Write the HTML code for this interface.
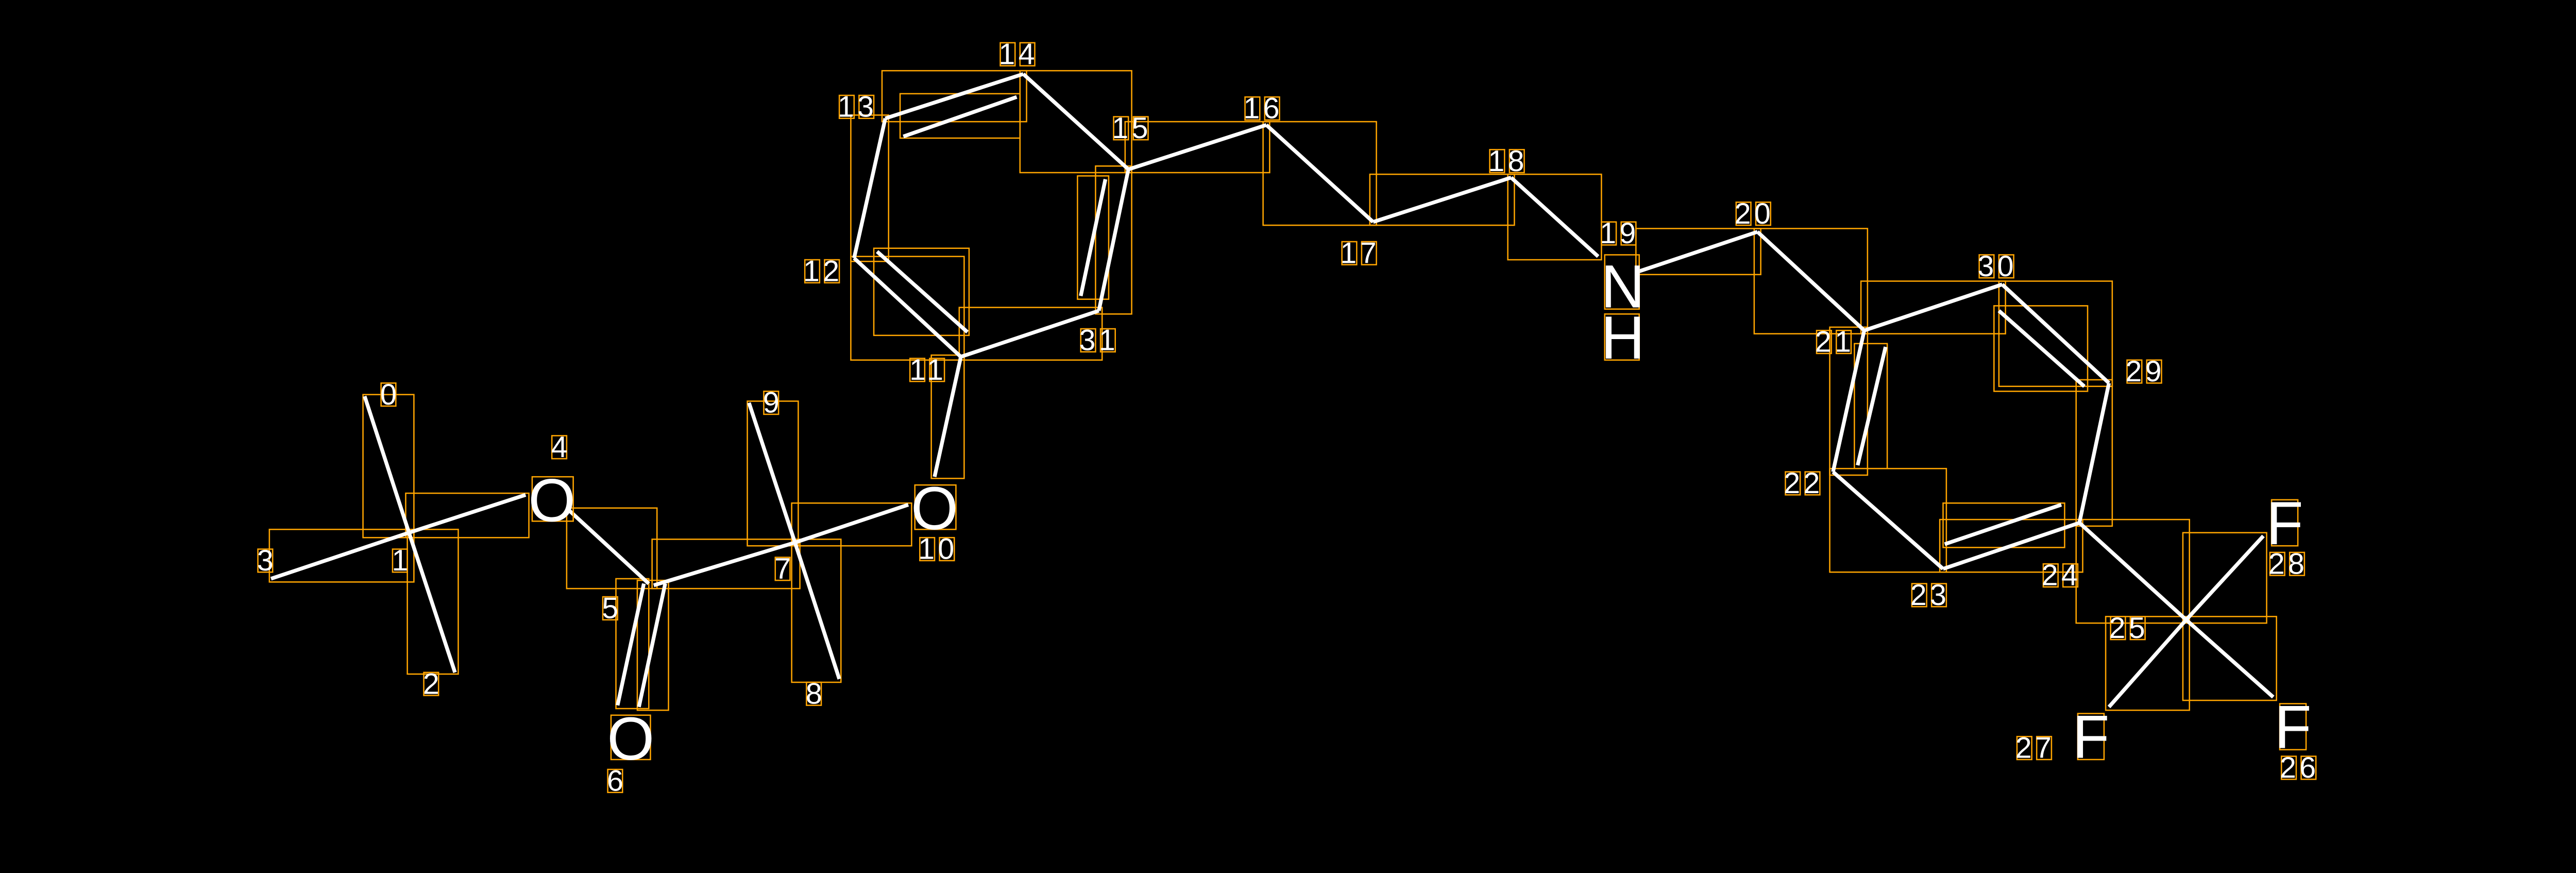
<!DOCTYPE html>
<html><head><meta charset="utf-8"><style>
html,body{margin:0;padding:0;background:#000;}
svg{display:block;}
text{font-family:"Liberation Sans","DejaVu Sans",sans-serif;fill:#fff;}
.d{font-size:18px;}
.a{font-size:37px;}
</style></head><body>
<svg width="5238" height="1694" viewBox="0 0 1643 531" preserveAspectRatio="none" xmlns="http://www.w3.org/2000/svg">
<rect width="1643" height="531" fill="#000"/>
<g fill="none" stroke="#ffa500" stroke-width="0.8">
<rect x="221" y="240" width="31" height="87"/>
<rect x="248" y="322" width="31" height="88"/>
<rect x="164" y="322" width="88" height="32"/>
<rect x="247" y="300" width="75" height="27"/>
<rect x="345" y="309" width="55" height="49"/>
<rect x="375" y="352" width="20" height="79"/>
<rect x="388" y="353" width="19" height="79"/>
<rect x="397" y="328" width="90" height="30"/>
<rect x="455" y="244" width="31" height="88"/>
<rect x="482" y="328" width="30" height="87"/>
<rect x="482" y="306" width="73" height="26"/>
<rect x="567" y="216" width="20" height="75"/>
<rect x="518" y="156" width="69" height="63"/>
<rect x="532" y="151" width="58" height="53"/>
<rect x="518" y="70" width="23" height="89"/>
<rect x="537" y="43" width="88" height="31"/>
<rect x="548" y="57" width="73" height="27"/>
<rect x="621" y="43" width="68" height="62"/>
<rect x="667" y="101" width="22" height="90"/>
<rect x="656" y="107" width="19" height="75"/>
<rect x="584" y="187" width="87" height="32"/>
<rect x="685" y="74" width="88" height="31"/>
<rect x="769" y="74" width="69" height="63"/>
<rect x="834" y="106" width="88" height="31"/>
<rect x="918" y="106" width="57" height="52"/>
<rect x="996" y="139" width="76" height="28"/>
<rect x="1068" y="139" width="69" height="64"/>
<rect x="1133" y="171" width="88" height="32"/>
<rect x="1217" y="171" width="69" height="64"/>
<rect x="1214" y="186" width="57" height="52"/>
<rect x="1264" y="231" width="22" height="89"/>
<rect x="1181" y="316" width="87" height="32"/>
<rect x="1183" y="306" width="74" height="27"/>
<rect x="1114" y="285" width="71" height="63"/>
<rect x="1114" y="199" width="23" height="90"/>
<rect x="1129" y="209" width="20" height="76"/>
<rect x="1264" y="316" width="69" height="63"/>
<rect x="1329" y="375" width="57" height="51"/>
<rect x="1282" y="375" width="51" height="57"/>
<rect x="1329" y="324" width="51" height="55"/>
</g>
<g stroke="#fff" stroke-width="2.3">
<line x1="249" y1="324" x2="222" y2="241"/>
<line x1="249" y1="324" x2="277" y2="409"/>
<line x1="249" y1="324" x2="165" y2="352"/>
<line x1="249" y1="324" x2="320" y2="301"/>
<line x1="346" y1="310" x2="395" y2="355"/>
<line x1="392" y1="355" x2="376" y2="429"/>
<line x1="405" y1="355" x2="389" y2="430"/>
<line x1="398" y1="356" x2="484" y2="330"/>
<line x1="484" y1="330" x2="456" y2="245"/>
<line x1="484" y1="330" x2="511" y2="413"/>
<line x1="484" y1="330" x2="553" y2="307"/>
<line x1="569" y1="290" x2="585" y2="217"/>
<line x1="585" y1="217" x2="520" y2="157"/>
<line x1="534" y1="153" x2="589" y2="202"/>
<line x1="520" y1="157" x2="539" y2="72"/>
<line x1="539" y1="72" x2="623" y2="45"/>
<line x1="550" y1="83" x2="619" y2="59"/>
<line x1="623" y1="45" x2="687" y2="103"/>
<line x1="687" y1="103" x2="669" y2="189"/>
<line x1="673" y1="109" x2="658" y2="180"/>
<line x1="669" y1="189" x2="585" y2="217"/>
<line x1="687" y1="103" x2="771" y2="76"/>
<line x1="771" y1="76" x2="836" y2="135"/>
<line x1="836" y1="135" x2="920" y2="108"/>
<line x1="920" y1="108" x2="973" y2="156"/>
<line x1="998" y1="165" x2="1070" y2="141"/>
<line x1="1070" y1="141" x2="1135" y2="201"/>
<line x1="1135" y1="201" x2="1219" y2="173"/>
<line x1="1219" y1="173" x2="1284" y2="233"/>
<line x1="1217" y1="189" x2="1269" y2="235"/>
<line x1="1284" y1="233" x2="1266" y2="318"/>
<line x1="1266" y1="318" x2="1183" y2="346"/>
<line x1="1184" y1="331" x2="1255" y2="307"/>
<line x1="1183" y1="346" x2="1116" y2="287"/>
<line x1="1116" y1="287" x2="1135" y2="201"/>
<line x1="1148" y1="211" x2="1131" y2="283"/>
<line x1="1266" y1="318" x2="1331" y2="377"/>
<line x1="1331" y1="377" x2="1384" y2="424"/>
<line x1="1331" y1="377" x2="1284" y2="430"/>
<line x1="1331" y1="377" x2="1378" y2="326"/>
</g>
<g fill="none" stroke="#ffa500" stroke-width="0.8">
<rect x="324" y="290" width="25" height="27"/>
<rect x="372" y="435" width="24" height="27"/>
<rect x="557" y="295" width="25" height="27"/>
<rect x="977" y="155" width="21" height="33"/>
<rect x="977" y="191" width="21" height="28"/>
<rect x="1383" y="304" width="16" height="28"/>
<rect x="1265" y="434" width="16" height="28"/>
<rect x="1388" y="428" width="16" height="28"/>
</g>
<text class="a" x="336" y="317" text-anchor="middle">O</text>
<text class="a" x="384" y="462" text-anchor="middle">O</text>
<text class="a" x="569" y="322" text-anchor="middle">O</text>
<text class="a" x="988" y="187" text-anchor="middle">N</text>
<text class="a" x="988" y="218" text-anchor="middle">H</text>
<text class="a" x="1391" y="331" text-anchor="middle">F</text>
<text class="a" x="1273" y="461" text-anchor="middle">F</text>
<text class="a" x="1396" y="455" text-anchor="middle">F</text>
<g fill="none" stroke="#ffa500" stroke-width="0.8">
<rect x="232" y="233" width="9" height="14"/>
<rect x="239" y="334" width="9" height="14"/>
<rect x="258" y="409" width="9" height="14"/>
<rect x="157" y="334" width="9" height="14"/>
<rect x="336" y="265" width="9" height="14"/>
<rect x="367" y="363" width="9" height="14"/>
<rect x="370" y="468" width="9" height="14"/>
<rect x="472" y="339" width="9" height="14"/>
<rect x="491" y="415" width="9" height="14"/>
<rect x="465" y="238" width="9" height="14"/>
<rect x="560" y="327" width="9" height="14"/><rect x="572" y="327" width="9" height="14"/>
<rect x="554" y="218" width="9" height="14"/><rect x="566" y="218" width="9" height="14"/>
<rect x="490" y="158" width="9" height="14"/><rect x="502" y="158" width="9" height="14"/>
<rect x="511" y="58" width="9" height="14"/><rect x="523" y="58" width="9" height="14"/>
<rect x="609" y="26" width="9" height="14"/><rect x="621" y="26" width="9" height="14"/>
<rect x="678" y="71" width="9" height="14"/><rect x="690" y="71" width="9" height="14"/>
<rect x="758" y="59" width="9" height="14"/><rect x="770" y="59" width="9" height="14"/>
<rect x="817" y="147" width="9" height="14"/><rect x="829" y="147" width="9" height="14"/>
<rect x="907" y="91" width="9" height="14"/><rect x="919" y="91" width="9" height="14"/>
<rect x="975" y="135" width="9" height="14"/><rect x="987" y="135" width="9" height="14"/>
<rect x="1057" y="123" width="9" height="14"/><rect x="1069" y="123" width="9" height="14"/>
<rect x="1106" y="201" width="9" height="14"/><rect x="1118" y="201" width="9" height="14"/>
<rect x="1087" y="287" width="9" height="14"/><rect x="1099" y="287" width="9" height="14"/>
<rect x="1164" y="355" width="9" height="14"/><rect x="1176" y="355" width="9" height="14"/>
<rect x="1244" y="343" width="9" height="14"/><rect x="1256" y="343" width="9" height="14"/>
<rect x="1285" y="375" width="9" height="14"/><rect x="1297" y="375" width="9" height="14"/>
<rect x="1389" y="460" width="9" height="14"/><rect x="1401" y="460" width="9" height="14"/>
<rect x="1228" y="448" width="9" height="14"/><rect x="1240" y="448" width="9" height="14"/>
<rect x="1382" y="336" width="9" height="14"/><rect x="1394" y="336" width="9" height="14"/>
<rect x="1295" y="219" width="9" height="14"/><rect x="1307" y="219" width="9" height="14"/>
<rect x="1205" y="155" width="9" height="14"/><rect x="1217" y="155" width="9" height="14"/>
<rect x="658" y="200" width="9" height="14"/><rect x="670" y="200" width="9" height="14"/>
</g>
<g text-anchor="middle">
<text class="d" x="236.5" y="246">0</text>
<text class="d" x="243.5" y="347">1</text>
<text class="d" x="262.5" y="422">2</text>
<text class="d" x="161.5" y="347">3</text>
<text class="d" x="340.5" y="278">4</text>
<text class="d" x="371.5" y="376">5</text>
<text class="d" x="374.5" y="481">6</text>
<text class="d" x="476.5" y="352">7</text>
<text class="d" x="495.5" y="428">8</text>
<text class="d" x="469.5" y="251">9</text>
<text class="d" x="571" y="340" letter-spacing="2">10</text>
<text class="d" x="565" y="231" letter-spacing="2">11</text>
<text class="d" x="501" y="171" letter-spacing="2">12</text>
<text class="d" x="522" y="71" letter-spacing="2">13</text>
<text class="d" x="620" y="39" letter-spacing="2">14</text>
<text class="d" x="689" y="84" letter-spacing="2">15</text>
<text class="d" x="769" y="72" letter-spacing="2">16</text>
<text class="d" x="828" y="160" letter-spacing="2">17</text>
<text class="d" x="918" y="104" letter-spacing="2">18</text>
<text class="d" x="986" y="148" letter-spacing="2">19</text>
<text class="d" x="1068" y="136" letter-spacing="2">20</text>
<text class="d" x="1117" y="214" letter-spacing="2">21</text>
<text class="d" x="1098" y="300" letter-spacing="2">22</text>
<text class="d" x="1175" y="368" letter-spacing="2">23</text>
<text class="d" x="1255" y="356" letter-spacing="2">24</text>
<text class="d" x="1296" y="388" letter-spacing="2">25</text>
<text class="d" x="1400" y="473" letter-spacing="2">26</text>
<text class="d" x="1239" y="461" letter-spacing="2">27</text>
<text class="d" x="1393" y="349" letter-spacing="2">28</text>
<text class="d" x="1306" y="232" letter-spacing="2">29</text>
<text class="d" x="1216" y="168" letter-spacing="2">30</text>
<text class="d" x="669" y="213" letter-spacing="2">31</text>
</g>
</svg>
</body></html>
